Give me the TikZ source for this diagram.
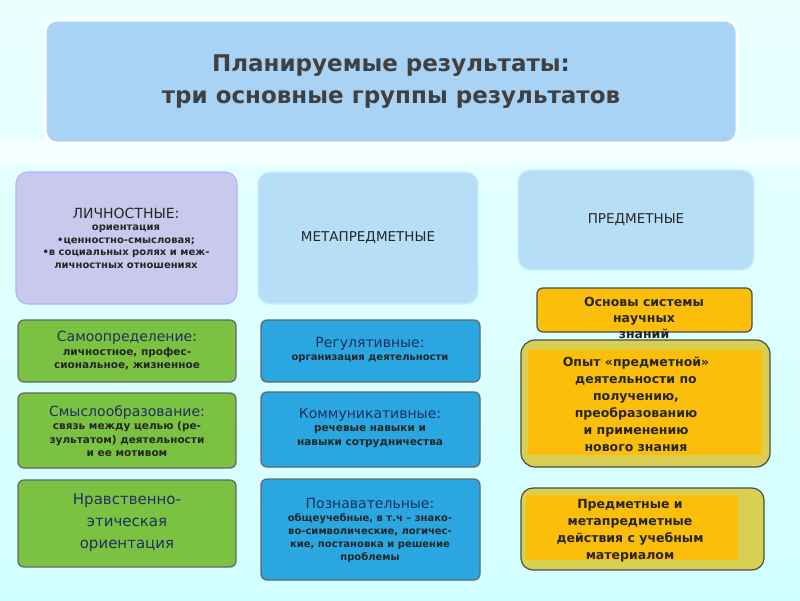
\documentclass[tikz,border=0pt]{standalone}
\usepackage{fontspec}
\setmainfont{DejaVu Sans}
\definecolor{ttl}{HTML}{A9D3F5}
\definecolor{lav}{HTML}{C9C9EE}
\definecolor{lbl}{HTML}{B6DFF7}
\definecolor{grn}{HTML}{7CC242}
\definecolor{blu}{HTML}{2AA7E1}
\definecolor{org}{HTML}{FBBE0A}
\definecolor{olv}{HTML}{D9CF52}
\definecolor{hd}{HTML}{1F2F5F}
\begin{document}
\begin{tikzpicture}[x=1pt,y=-1pt,
 bx/.style={draw=#1,rounded corners=12pt,line width=1.2pt},
 t/.style={align=center,text=black!85,font=\fontsize{10.5}{13.5}\selectfont\bfseries},
 hh/.style={font=\fontsize{14}{18}\selectfont\mdseries\color{hd}}]
\fill[top color=cyan!8,bottom color=cyan!18] (0,0) rectangle (800,600);
\fill[white,opacity=.6] (0,140) rectangle (800,165);
\useasboundingbox (0,0) rectangle (800,600);
\filldraw[bx=white,fill=ttl,line width=3pt] (45,20) rectangle (737,143);
\node[font=\fontsize{23}{32}\selectfont\bfseries,text=black!75,align=center] (title) at (391,82) {Планируемые результаты:\\три основные группы результатов};
\filldraw[bx=blue!30,fill=lav] (16,172) rectangle (237,304);
\node[t,font=\fontsize{10}{12.5}\selectfont\bfseries] (l) at (126,238) {{\fontsize{14}{18}\selectfont\mdseries ЛИЧНОСТНЫЕ:}\\ориентация\\•ценностно-смысловая;\\•в социальных ролях и меж-\\личностных отношениях};
\filldraw[bx=cyan!20,fill=lbl] (258,172) rectangle (478,304);
\node[t,font=\fontsize{13.5}{16}\selectfont] (m) at (368,238) {МЕТАПРЕДМЕТНЫЕ};
\filldraw[bx=cyan!20,fill=lbl] (518,170) rectangle (754,270);
\node[t,font=\fontsize{13.5}{16}\selectfont] (p) at (636,220) {ПРЕДМЕТНЫЕ};
% green
\foreach \a/\b in {320/382,393/468,480/567}{
 \filldraw[bx=black!60,fill=grn,rounded corners=6pt] (18,\a) rectangle (236,\b);}
\node[t] (g1) at (127,351) {{\fontsize{14}{18}\selectfont\mdseries\color{hd}Самоопределение:}\\личностное, профес-\\сиональное, жизненное};
\node[t] (g2) at (127,431) {{\fontsize{14}{18}\selectfont\mdseries\color{hd}Смыслообразование:}\\связь между целью (ре-\\зультатом) деятельности\\и ее мотивом};
\node[t,font=\fontsize{15}{22}\selectfont\mdseries,text=hd] (g3) at (127,523) {Нравственно-\\этическая\\ориентация};
% blue
\foreach \a/\b in {320/382,392/467,479/580}{
 \filldraw[bx=black!60,fill=blu,rounded corners=6pt] (261,\a) rectangle (480,\b);}
\node[t,font=\fontsize{10}{13}\selectfont\bfseries] (b1) at (370,350) {{\fontsize{14}{18}\selectfont\mdseries\color{hd}Регулятивные:}\\организация деятельности};
\node[t] (b2) at (370,428) {{\fontsize{14}{18}\selectfont\mdseries\color{hd}Коммуникативные:}\\речевые навыки и\\навыки сотрудничества};
\node[t,font=\fontsize{10}{13}\selectfont\bfseries] (b3) at (370,530) {{\fontsize{14}{18}\selectfont\mdseries\color{hd}Познавательные:}\\общеучебные, в т.ч – знако-\\во-символические, логичес-\\кие, постановка и решение\\проблемы};
% orange
\filldraw[bx=black!70,fill=org,rounded corners=6pt] (537,288) rectangle (752,332);
\node[t,font=\fontsize{12.5}{16}\selectfont\bfseries] (o1) at (644,318) {Основы системы\\научных\\знаний};
\filldraw[bx=black!70,fill=olv,rounded corners=14pt] (521,340) rectangle (770,467);
\fill[org] (528,350) rectangle (762,455);
\node[t,font=\fontsize{12.5}{17}\selectfont\bfseries] (o2) at (636,404) {Опыт «предметной»\\деятельности по\\получению,\\преобразованию\\и применению\\нового знания};
\filldraw[bx=black!70,fill=olv,rounded corners=12pt] (521,488) rectangle (764,570);
\fill[org] (526,495) rectangle (738,560);
\node[t,font=\fontsize{12.5}{17}\selectfont\bfseries] (o3) at (630,531) {Предметные  и\\метапредметные\\действия с учебным\\материалом};
\end{tikzpicture}
\end{document}
